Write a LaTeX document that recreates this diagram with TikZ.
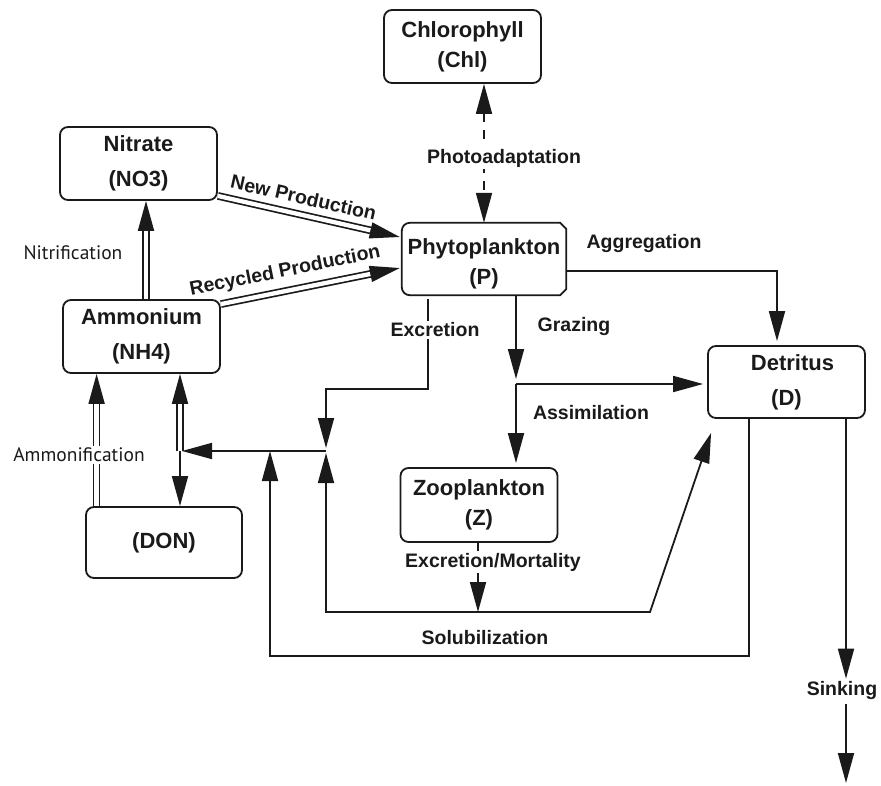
\documentclass[tikz,border=0pt]{standalone}
\usepackage{fontspec}
\setmainfont{Liberation Sans}
\newfontfamily\nitfont{PT Sans}
\usetikzlibrary{arrows.meta,calc}
\definecolor{ink}{HTML}{1A1A1A}
\begin{document}
\begin{tikzpicture}[x=1pt,y=-1pt,
  box/.style={draw=ink, line width=1.8pt, rounded corners=8pt, minimum width=157pt, minimum height=73pt, inner sep=0pt, align=center, text=ink},
  bx30/.style={box, font=\fontsize{22}{30}\selectfont\bfseries},
  bx35/.style={box, font=\fontsize{22}{35}\selectfont\bfseries},
  lbl/.style={font=\fontsize{19.5}{22}\selectfont\bfseries, text=ink, inner sep=2pt},
  wlbl/.style={lbl, fill=white},
  nlbl/.style={font=\fontsize{19.5}{22}\selectfont\nitfont, text=ink, inner sep=2pt, fill=white},
  con/.style={draw=ink, line width=1.8pt},
  arr/.style={con, -{Triangle[length=30pt,width=16pt]}},
  barr/.style={con, {Triangle[length=30pt,width=16pt]}-{Triangle[length=30pt,width=16pt]}},
  dbl/.style={draw=ink, double=white, line width=1.7pt, double distance=4.3pt}
]
\useasboundingbox (0,0) rectangle (881,785);

% boxes
\node[bx30] (Chl) at (462.5,46.5) {Chlorophyll\\(Chl)};
\node[bx35] (NO3) at (138.5,163.5) {Nitrate\\(NO3)};
\node[bx35] (NH4) at (141.5,336.5) {Ammonium\\(NH4)};
\node[bx35, minimum width=156pt, minimum height=71pt] (DON) at (164,542.5) {(DON)};
\node[minimum width=164pt, minimum height=72pt, inner sep=0pt] (P) at (484,259) {};
\node[font=\fontsize{22}{30}\selectfont\bfseries, text=ink, align=center, inner sep=0pt] (Ptxt) at (484,264) {Phytoplankton\\(P)};
\draw[con, rounded corners=8pt] (P.north) -- (P.north west) -- (P.south west) -- (P.south) [sharp corners] -- ($(P.south east)+(-6,0)$) -- ($(P.south east)+(0,-6)$) -- ($(P.north east)+(0,6)$) -- ($(P.north east)+(-6,0)$) -- cycle;
\node[bx35, minimum height=72pt] (D) at (786.5,382) {\hspace{12pt}Detritus\\(D)};
\node[bx30, minimum height=74pt] (Z) at (479,505) {Zooplankton\\(Z)};

% Photoadaptation
\draw[barr, dash pattern=on 9pt off 8pt] (Chl.south -| P.north) -- (P.north);
\node[wlbl] (pa) at (504,158) {Photoadaptation};

% New production
\coordinate (np1) at ($(NO3.south east)+(0,-5)$);
\coordinate (np2) at ($(P.west)+(-2,-22)$);
\draw[dbl] (np1) -- ($(np2)!29pt!(np1)$);
\draw[arr] ($(np2)!30pt!(np1)$) -- (np2);
\path (np1) -- (np2) node[lbl, sloped, above=8pt, pos=0.45] {New Production};

% Recycled production
\coordinate (rp1) at ($(NH4.north east)+(0,5)$);
\coordinate (rp2) at ($(P.west)+(-2,9)$);
\draw[dbl] (rp1) -- ($(rp2)!29pt!(rp1)$);
\draw[arr] ($(rp2)!30pt!(rp1)$) -- (rp2);
\path (rp1) -- (rp2) node[lbl, sloped, above=8pt, pos=0.38] {Recycled Production};

% Nitrification
\coordinate (nf1) at ($(NH4.north)+(4.5,0)$);
\coordinate (nf2) at (nf1 |- NO3.south);
\draw[dbl] (nf1) -- ($(nf2)!29pt!(nf1)$);
\draw[arr] ($(nf2)!30pt!(nf1)$) -- (nf2);
\node[nlbl, fill=none] (nit) at (73,253) {Nitrification};

% Ammonification
\coordinate (am1) at ($(DON.north west)+(11.5,0)$);
\coordinate (am2) at (am1 |- NH4.south);
\draw[dbl] (am1) -- ($(am2)!29pt!(am1)$);
\draw[arr] ($(am2)!30pt!(am1)$) -- (am2);
\node[nlbl] (amm) at (79,455) {Ammonification};

% DON / NH4 junction
\coordinate (jn) at (180,451);
\coordinate (jnu) at (jn |- NH4.south);
\draw[dbl] (jn) -- ($(jnu)!29pt!(jn)$);
\draw[arr] ($(jnu)!30pt!(jn)$) -- (jnu);
\draw[arr] (jn) -- (jn |- DON.north);

% junctions
\coordinate (J1) at (326,451);
\coordinate (J2) at (270,451);
\draw[arr] (J1) -- ($(jn)+(2,0)$);

% Excretion from P
\coordinate (ex0) at ($(P.south)+(-56,4)$);
\coordinate (exc) at (326,389);
\draw[arr] (ex0) |- (exc) -- ($(J1)+(0,-3)$);
\node[wlbl] (exl) at (435,330) {Excretion};

% Solubilization
\coordinate (sol0) at ($(D.south)+(-37.5,0)$);
\draw[arr] (sol0) |- ($(J2)+(0,205)$) -- (J2);
\node[lbl] (sol) at (485,638) {Solubilization};

% Zooplankton excretion / mortality
\coordinate (zm) at ($(Z.south)+(-1,0)$);
\coordinate (zb) at (478,612);
\draw[arr] (zm) -- (zb);
\node[wlbl] (zml) at (493,562) {Excretion/Mortality};
\coordinate (zk) at (650,612);
\coordinate (dd) at ($(D.south west)+(4,14)$);
\draw[barr] ($(J1)+(0,2)$) |- (zk) -- (dd);

% Grazing / Assimilation
\coordinate (gz) at ($(P.south)+(32,0)$);
\coordinate (J3) at (516,384);
\draw[arr] (gz) -- ($(J3)+(0,-5)$);
\draw[arr, shorten >=4pt] (J3) -- (J3 -| D.west);
\draw[arr, shorten >=4pt] (J3) -- (J3 |- Z.north);
\node[lbl] (gzl) at (574,326) {Grazing};
\node[lbl] (asl) at (591,413) {Assimilation};

% Aggregation
\coordinate (ag0) at ($(P.east)+(0,12)$);
\draw[arr, shorten >=4pt] (ag0) -| ($(D.north)+(-9.5,0)$);
\node[lbl] (agl) at (644,243) {Aggregation};

% Sinking
\coordinate (sk0) at ($(D.south)+(59.5,0)$);
\node[lbl] (sink) at (842,690) {Sinking};
\draw[arr] (sk0) -- (sk0 |- sink.north);
\coordinate (skend) at (846,783);
\draw[arr] ($(sink.south -| sk0)+(0,3)$) -- (skend);
\end{tikzpicture}
\end{document}
